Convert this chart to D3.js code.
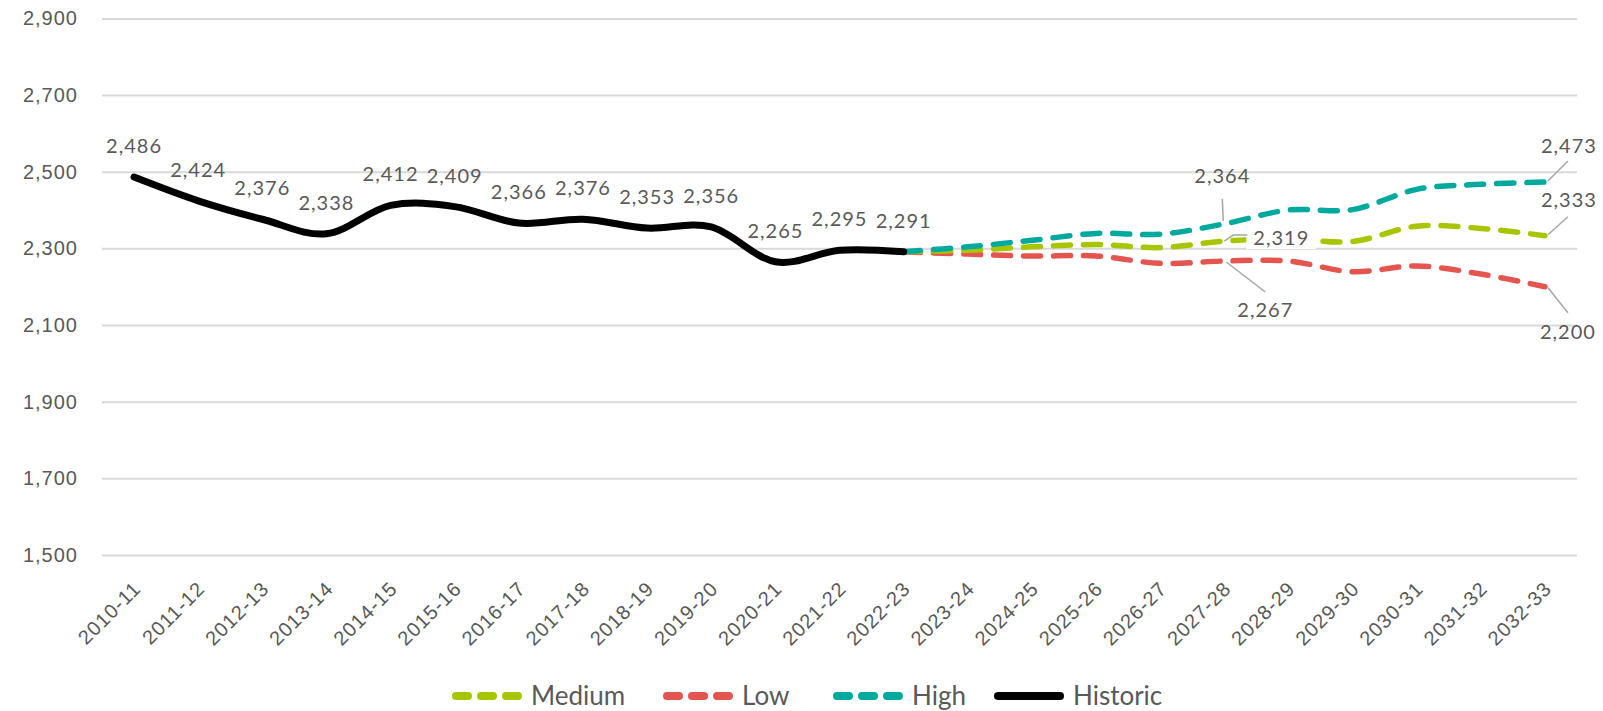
<!doctype html>
<html>
  <head>
    <style>
      body { margin: 0; background: white; }
      svg { font-family: Lato, 'Open Sans', sans-serif; }
      .grid line { stroke: #d9d9d9; stroke-width: 2; }
      .axis text { fill: #595959; font-size: 20px; letter-spacing: 1px; }
      .lbl { fill: #595959; font-size: 20px; letter-spacing: 1px; text-anchor: middle; }
      .leader { stroke: #a6a6a6; stroke-width: 1.5; fill: none; }
      .legend text { fill: #595959; font-size: 26px; }
    </style>
    <script src="https://d3js.org/d3.v7.min.js"></script>
  </head>
  <body onload="init()">
    <svg width="1603" height="711"></svg>
    <script>
      // data
      const categories = ["2010-11","2011-12","2012-13","2013-14","2014-15","2015-16","2016-17",
        "2017-18","2018-19","2019-20","2020-21","2021-22","2022-23","2023-24","2024-25","2025-26",
        "2026-27","2027-28","2028-29","2029-30","2030-31","2031-32","2032-33"];
      const historic = [2486,2424,2376,2338,2412,2409,2366,2376,2353,2356,2265,2295,2291,
        null,null,null,null,null,null,null,null,null,null];
      const medium = [null,null,null,null,null,null,null,null,null,null,null,null,
        2291,2295,2304,2310,2302,2319,2325,2318,2358,2352,2333];
      const low = [null,null,null,null,null,null,null,null,null,null,null,null,
        2291,2285,2280,2280,2261,2267,2267,2239,2254,2233,2200];
      const high = [null,null,null,null,null,null,null,null,null,null,null,null,
        2291,2304,2321,2339,2337,2364,2400,2401,2454,2467,2473];
      const yTicks = [1500,1700,1900,2100,2300,2500,2700,2900];

      function init() {
        var svg = d3.select("svg");
        var left = 102, right = 1577, top = 18.4, bottom = 555;

        var x = d3.scaleBand().domain(categories).range([left, right]);
        var y = d3.scaleLinear().domain([1500, 2900]).range([bottom, top]);
        var cx = function(i){ return x(categories[i]) + x.bandwidth()/2; };

        // gridlines + y labels
        svg.append("g").attr("class", "grid axis")
          .attr("transform", "translate(" + left + ",0)")
          .call(d3.axisLeft(y).tickValues(yTicks).tickFormat(d3.format(","))
                .tickSize(-(right - left)).tickPadding(24))
          .call(function(g){ g.select(".domain").remove(); });

        // x labels
        svg.append("g").attr("class", "axis")
          .attr("transform", "translate(0," + bottom + ")")
          .call(d3.axisBottom(x).tickSize(0))
          .call(function(g){ g.select(".domain").remove(); })
          .selectAll("text")
          .attr("text-anchor", "end")
          .attr("y", 0).attr("dy", 0)
          .attr("transform", "translate(8,35) rotate(-45)");

        var line = d3.line()
          .defined(function(d){ return d != null; })
          .x(function(d, i){ return cx(i); })
          .y(function(d){ return y(d); })
          .curve(d3.curveCardinal.tension(0));

        var series = [
          {vals: low, color: "#e5554f"},
          {vals: medium, color: "#a8c600"},
          {vals: high, color: "#00a99d"}
        ];
        series.forEach(function(s){
          svg.append("path").attr("d", line(s.vals))
            .attr("fill", "none").attr("stroke", s.color)
            .attr("stroke-width", 5.5).attr("stroke-linecap", "round")
            .attr("stroke-dasharray", "17,13");
        });
        svg.append("path").attr("d", line(historic))
          .attr("fill", "none").attr("stroke", "#000")
          .attr("stroke-width", 7).attr("stroke-linecap", "round");

        // historic labels above points
        historic.forEach(function(v, i){
          if (v == null) return;
          svg.append("text").attr("class", "lbl")
            .attr("x", cx(i)).attr("y", y(v) - 24)
            .text(d3.format(",")(v));
        });

        // projection labels with leader lines
        var notes = [
          {vals: high, i: 17, tx: -2, ty: -48, path: [[-1,-3],[-2,-25]]},
          {vals: medium, i: 17, tx: 57, ty: -3, box: true, path: [[0,0],[9,-6],[23,-6]]},
          {vals: low, i: 17, tx: 41, ty: 49, path: [[2,1],[41,31]]},
          {vals: high, i: 22, tx: 24, ty: -36, path: [[3,-1],[23,-21]]},
          {vals: medium, i: 22, tx: 24, ty: -36, path: [[3,-1],[23,-19]]},
          {vals: low, i: 22, tx: 23, ty: 45, path: [[3,1],[23,26]]}
        ];
        notes.forEach(function(n){
          var px = cx(n.i), py = y(n.vals[n.i]);
          if (n.box) {
            svg.append("rect").attr("x", px + n.tx - 35).attr("y", py + n.ty - 11)
              .attr("width", 70).attr("height", 22).attr("fill", "white");
          }
          svg.append("path").attr("class", "leader")
            .attr("d", d3.line()(n.path.map(function(p){ return [px + p[0], py + p[1]]; })));
          svg.append("text").attr("class", "lbl")
            .attr("x", px + n.tx).attr("y", py + n.ty + 7)
            .text(d3.format(",")(n.vals[n.i]));
        });

        // legend
        var legend = [
          {name: "Medium", color: "#a8c600", x: 452, dash: true},
          {name: "Low", color: "#e5554f", x: 663, dash: true},
          {name: "High", color: "#00a99d", x: 833, dash: true},
          {name: "Historic", color: "#000", x: 994, dash: false}
        ];
        var lg = svg.append("g").attr("class", "legend");
        legend.forEach(function(d){
          var l = lg.append("line")
            .attr("x1", d.x + 4).attr("x2", d.x + 66)
            .attr("y1", 696).attr("y2", 696)
            .attr("stroke", d.color).attr("stroke-width", 8)
            .attr("stroke-linecap", "round");
          if (d.dash) l.attr("stroke-dasharray", "12,13");
          lg.append("text").attr("x", d.x + 79).attr("y", 705).text(d.name);
        });
      }
    </script>
  </body>
</html>
